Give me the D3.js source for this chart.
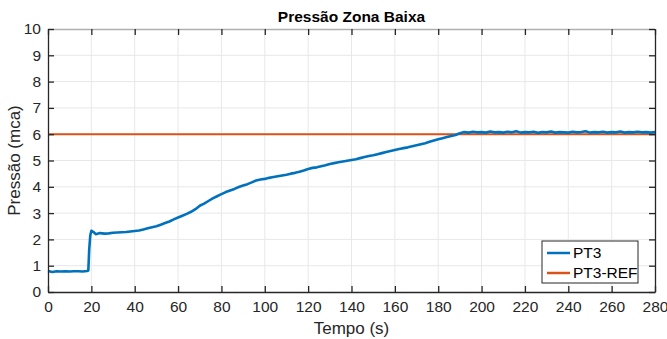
<!DOCTYPE html>
<html>
<head>
<meta charset="utf-8">
<script src="https://cdn.jsdelivr.net/npm/d3@7"></script>
<style>
  body { margin: 0; background: #fff; }
  svg { display: block; font-family: "Liberation Sans", Arial, sans-serif; }
  .tick text { fill: #262626; }
</style>
</head>
<body>
<svg width="667" height="339"></svg>
<script>
var times = [0, 2, 4, 6, 8, 10, 12, 14, 16, 18, 18.6, 19, 19.5, 20, 21, 22, 24, 26, 28, 30,
  32, 34, 36, 38, 40, 42, 44, 46, 48, 50, 52, 54, 56, 58, 60, 62, 64, 66, 68, 70,
  72, 74, 76, 78, 80, 82, 84, 86, 88, 90, 92, 94, 96, 98, 100, 102, 104, 106, 108, 110,
  112, 114, 116, 118, 120, 122, 124, 126, 128, 130, 132, 134, 136, 138, 140, 142, 144, 146, 148, 150,
  152, 154, 156, 158, 160, 162, 164, 166, 168, 170, 172, 174, 176, 178, 180, 182, 184, 186, 188, 190,
  192, 194, 196, 198, 200, 202, 204, 206, 208, 210, 212, 214, 216, 218, 220, 222, 224, 226, 228, 230,
  232, 234, 236, 238, 240, 242, 244, 246, 248, 250, 252, 254, 256, 258, 260, 262, 264, 266, 268, 270,
  272, 274, 276, 278, 280];
var pt3 = [0.80, 0.76, 0.79, 0.78, 0.79, 0.78, 0.79, 0.79, 0.78, 0.80, 0.82, 1.60, 2.15, 2.33, 2.28, 2.20, 2.24, 2.22, 2.23, 2.25,
  2.26, 2.27, 2.28, 2.30, 2.32, 2.34, 2.38, 2.42, 2.46, 2.50, 2.56, 2.62, 2.68, 2.76, 2.83, 2.90, 2.97, 3.05, 3.15, 3.28,
  3.36, 3.46, 3.56, 3.64, 3.72, 3.80, 3.86, 3.92, 3.99, 4.05, 4.10, 4.17, 4.24, 4.28, 4.30, 4.34, 4.37, 4.40, 4.43, 4.46,
  4.50, 4.53, 4.57, 4.62, 4.68, 4.72, 4.74, 4.78, 4.82, 4.87, 4.90, 4.93, 4.96, 4.99, 5.02, 5.05, 5.09, 5.13, 5.17, 5.20,
  5.24, 5.28, 5.32, 5.36, 5.40, 5.44, 5.47, 5.50, 5.54, 5.58, 5.62, 5.66, 5.71, 5.76, 5.81, 5.85, 5.89, 5.93, 5.97, 6.04,
  6.08, 6.06, 6.09, 6.07, 6.08, 6.06, 6.10, 6.07, 6.08, 6.06, 6.09, 6.07, 6.11, 6.06, 6.08, 6.07, 6.09, 6.05, 6.08, 6.07,
  6.10, 6.06, 6.08, 6.07, 6.06, 6.09, 6.07, 6.08, 6.11, 6.06, 6.08, 6.07, 6.09, 6.06, 6.08, 6.07, 6.10, 6.06, 6.08, 6.07,
  6.09, 6.07, 6.08, 6.06, 6.08];
// reference setpoint
var refTimes = [0, 280];
var pt3Ref = [6, 6];

var xTicks = [0, 20, 40, 60, 80, 100, 120, 140, 160, 180, 200, 220, 240, 260, 280];
var yTicks = [0, 1, 2, 3, 4, 5, 6, 7, 8, 9, 10];
var seriesNames = ['PT3', 'PT3-REF'];
var seriesColors = ['#0072BD', '#D95319'];

var svg = d3.select('svg');
var plot = {l: 48, r: 655, t: 29, b: 292};

var x = d3.scaleLinear().domain([0, 280]).range([plot.l, plot.r]);
var y = d3.scaleLinear().domain([0, 10]).range([plot.b, plot.t]);

// grid
svg.append('g').selectAll('line.gx')
  .data(xTicks.slice(1, -1))
  .join('line')
  .attr('x1', d => x(d)).attr('x2', d => x(d))
  .attr('y1', plot.t).attr('y2', plot.b)
  .attr('stroke', '#e8e8e8').attr('stroke-width', 1);
svg.append('g').selectAll('line.gy')
  .data(yTicks.slice(1, -1))
  .join('line')
  .attr('x1', plot.l).attr('x2', plot.r)
  .attr('y1', d => y(d)).attr('y2', d => y(d))
  .attr('stroke', '#e8e8e8').attr('stroke-width', 1);

// top edge (grid line at 10)
svg.append('line')
  .attr('x1', plot.l).attr('x2', plot.r)
  .attr('y1', plot.t + 0.5).attr('y2', plot.t + 0.5)
  .attr('stroke', '#b0b0b0').attr('stroke-width', 1.5);

// lines
var line = d3.line().x(d => x(d[0])).y(d => y(d[1]));
svg.append('path')
  .datum(refTimes.map((t, i) => [t, pt3Ref[i]]))
  .attr('d', line)
  .attr('fill', 'none')
  .attr('stroke', seriesColors[1])
  .attr('stroke-width', 2);
svg.append('path')
  .datum(times.map((t, i) => [t, pt3[i]]))
  .attr('d', line)
  .attr('fill', 'none')
  .attr('stroke', seriesColors[0])
  .attr('stroke-width', 2.6)
  .attr('stroke-linejoin', 'round');

// axes
var xAxis = svg.append('g')
  .attr('transform', 'translate(0,' + plot.b + ')')
  .call(d3.axisBottom(x).tickValues(xTicks).tickSizeInner(-6).tickSizeOuter(0).tickPadding(9));
var yAxis = svg.append('g')
  .attr('transform', 'translate(' + plot.l + ',0)')
  .call(d3.axisLeft(y).tickValues(yTicks).tickSizeInner(-6).tickSizeOuter(0).tickPadding(7));
var topAxis = svg.append('g')
  .attr('transform', 'translate(0,' + plot.t + ')')
  .call(d3.axisTop(x).tickValues(xTicks).tickSizeInner(-6).tickSizeOuter(0).tickFormat(''));
var rightAxis = svg.append('g')
  .attr('transform', 'translate(' + plot.r + ',0)')
  .call(d3.axisRight(y).tickValues(yTicks).tickSizeInner(-6).tickSizeOuter(0).tickFormat(''));

[xAxis, yAxis, topAxis, rightAxis].forEach(function(g) {
  g.selectAll('line').attr('stroke', '#262626').attr('stroke-width', 1.3);
  g.selectAll('text').style('font-size', '15.5px');
});
topAxis.select('.domain').remove();
[xAxis, yAxis, rightAxis].forEach(function(g) {
  g.select('.domain').attr('stroke', '#262626').attr('stroke-width', 1.3);
});

// title and labels
svg.append('text')
  .attr('x', (plot.l + plot.r) / 2)
  .attr('y', 22)
  .attr('text-anchor', 'middle')
  .style('font-weight', 'bold')
  .style('font-size', '15.5px')
  .attr('fill', '#000')
  .text('Pressão Zona Baixa');
svg.append('text')
  .attr('x', (plot.l + plot.r) / 2)
  .attr('y', 334)
  .attr('text-anchor', 'middle')
  .style('font-size', '17px')
  .attr('fill', '#262626')
  .text('Tempo (s)');
svg.append('text')
  .attr('transform', 'translate(20,' + (plot.t + plot.b) / 2 + ') rotate(-90)')
  .attr('text-anchor', 'middle')
  .style('font-size', '17px')
  .attr('fill', '#262626')
  .text('Pressão (mca)');

// legend
var legend = svg.append('g').attr('transform', 'translate(542,241)');
legend.append('rect')
  .attr('width', 96).attr('height', 42)
  .attr('fill', '#fff').attr('stroke', '#262626').attr('stroke-width', 1);
legend.selectAll('line')
  .data(seriesNames)
  .join('line')
  .attr('x1', 5).attr('x2', 28)
  .attr('y1', (d, i) => 12 + i * 20).attr('y2', (d, i) => 12 + i * 20)
  .attr('stroke', (d, i) => seriesColors[i])
  .attr('stroke-width', 2.5);
legend.selectAll('text')
  .data(seriesNames)
  .join('text')
  .attr('x', 31)
  .attr('y', (d, i) => 12 + i * 20)
  .attr('dy', '0.35em')
  .style('font-size', '15.5px')
  .attr('fill', '#000')
  .text(d => d);
</script>
</body>
</html>
